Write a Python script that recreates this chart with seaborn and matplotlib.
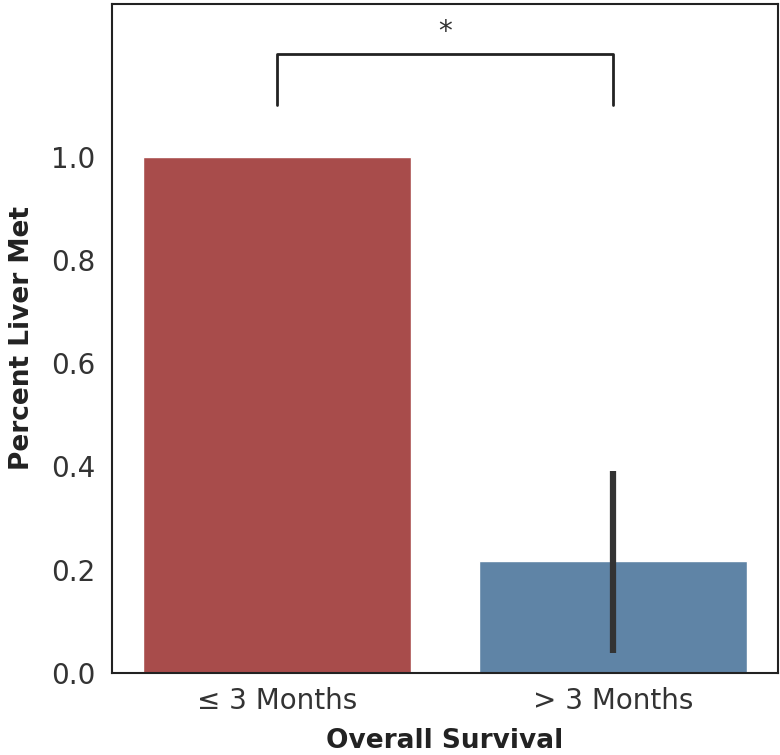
import matplotlib
matplotlib.use("Agg")
import matplotlib.pyplot as plt
import seaborn as sns
import pandas as pd

categories = ["\u2264 3 Months", "> 3 Months"]
means = [1.0, 0.217]
ci_low = [1.0, 0.038]
ci_high = [1.0, 0.392]
bar_colors = ["#a84c4b", "#5f84a6"]
y_ticks = [0.0, 0.2, 0.4, 0.6, 0.8, 1.0]

sns.set_theme(style="white")
plt.rcParams['font.family'] = ['DejaVu Sans']

df = pd.DataFrame({"group": categories, "value": means})

fig, ax = plt.subplots(figsize=(7.8, 7.55), dpi=100)
sns.barplot(data=df, x="group", y="value", hue="group", palette=bar_colors,
            errorbar=None, width=0.8, legend=False, ax=ax, saturation=1)

for i, (lo, hi) in enumerate(zip(ci_low, ci_high)):
    if hi > lo:
        ax.plot([i, i], [lo, hi], color="#333333", lw=4.5, solid_capstyle="butt", zorder=3)

# significance bracket
ax.plot([0, 0, 1, 1], [1.10, 1.20, 1.20, 1.10], color="#222222", lw=2)
ax.text(0.5, 1.215, "*", ha="center", va="bottom", fontsize=20, color="#333333")

ax.set_ylim(0, 1.297)
ax.set_xlim(-0.49, 1.49)
ax.set_yticks(y_ticks)
ax.set_yticklabels([f"{t:.1f}" for t in y_ticks])
ax.tick_params(axis="y", labelsize=20, colors="#333333", length=0, pad=12)
ax.tick_params(axis="x", labelsize=20, colors="#333333", length=0, pad=10)
ax.set_xlabel("Overall Survival", fontsize=19, fontweight="bold", color="#222222", labelpad=10)
ax.set_ylabel("Percent Liver Met", fontsize=19, fontweight="bold", color="#222222", labelpad=12)
for s in ax.spines.values():
    s.set_color("#222222")
    s.set_linewidth(1.5)

fig.subplots_adjust(left=0.144, right=0.997, top=0.995, bottom=0.109)
fig.savefig("out.png", dpi=100)
